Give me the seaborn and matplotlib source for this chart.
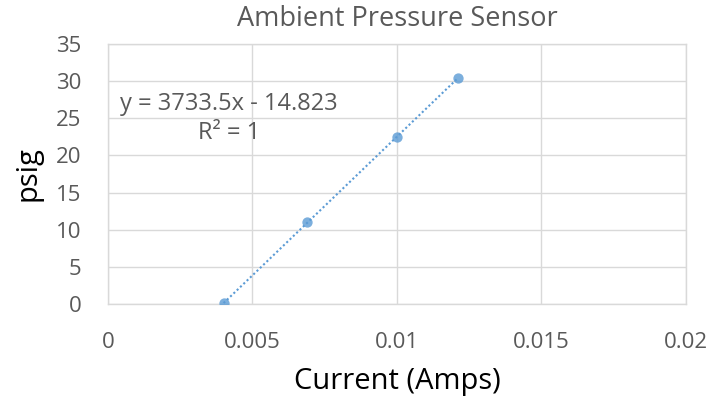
import numpy as np
import seaborn as sns
import matplotlib.pyplot as plt
import pandas as pd

# sensor calibration points
current_amps = [0.0040, 0.0069, 0.0100, 0.0121]
pressure_psig = [0.1, 11.0, 22.5, 30.4]
x_ticks = [0, 0.005, 0.01, 0.015, 0.02]
x_tick_labels = ["0", "0.005", "0.01", "0.015", "0.02"]
y_ticks = [0, 5, 10, 15, 20, 25, 30, 35]

df = pd.DataFrame({"current": current_amps, "psig": pressure_psig})

sns.set_style("white")
plt.rcParams['font.family'] = ['Open Sans', 'DejaVu Sans']

blue = "#5B9BD5"
grey_txt = "#595959"
grid_c = "#D9D9D9"

fig = plt.figure(figsize=(7.13, 4.01), dpi=100)
ax = fig.add_axes([0.1515, 0.242, 0.8105, 0.648])

sns.regplot(data=df, x="current", y="psig", ax=ax, ci=None, truncate=True,
            scatter_kws={"s": 55, "color": blue, "zorder": 3, "linewidths": 0},
            line_kws={"color": blue, "linestyle": (0, (1, 1.2)), "linewidth": 1.5})

ax.set_xlim(0, 0.02)
ax.set_ylim(0, 35)
ax.set_xticks(x_ticks)
ax.set_xticklabels(x_tick_labels)
ax.set_yticks(y_ticks)
ax.tick_params(axis='both', labelsize=16, colors=grey_txt, length=0)
ax.tick_params(axis='x', pad=20)
ax.tick_params(axis='y', pad=19)
ax.grid(True, color=grid_c, linewidth=1)
ax.set_axisbelow(True)
for s in ax.spines.values():
    s.set_color(grid_c)
    s.set_linewidth(1)

fig.text(0.557, 1 - 19 / 401, "Ambient Pressure Sensor", fontsize=19.5,
         color=grey_txt, ha="center", va="center")
ax.set_xlabel("Current (Amps)", fontsize=21, color="black", labelpad=10)
ax.set_ylabel("psig", fontsize=21, color="black", labelpad=10)

ax.text(0.00042, 26.9, "y = 3733.5x - 14.823", fontsize=17, color=grey_txt,
        ha="left", va="center")
ax.text(0.0042, 23.0, "R² = 1", fontsize=17, color=grey_txt,
        ha="center", va="center")

plt.savefig("out.png", dpi=100)
